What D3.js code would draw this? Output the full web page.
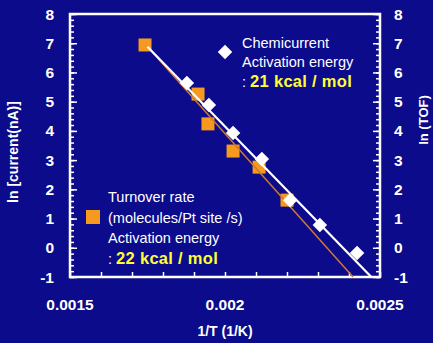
<!DOCTYPE html>
<html>
<head>
<meta charset="utf-8">
<script src="https://cdn.jsdelivr.net/npm/d3@7"></script>
<style>
  html, body { margin: 0; padding: 0; background: #0b0b8c; }
  svg { display: block; font-family: 'Liberation Sans', Arial, sans-serif; }
</style>
</head>
<body>
<svg></svg>
<script>
// chemicurrent (white diamonds)
const chemX = [0.001877, 0.001948, 0.002026, 0.002119, 0.00221, 0.002306, 0.002426]
const chemY = [5.64, 4.89, 3.93, 3.04, 1.63, 0.78, -0.18]
// turnover rate (orange squares)
const tofX = [0.001742, 0.001913, 0.001945, 0.002026, 0.00211, 0.0022]
const tofY = [6.94, 5.26, 4.24, 3.31, 2.76, 1.63]
// fitted lines, end points [x, y]
const chemFit = [[0.00175, 6.88], [0.002472, -1]]
const tofFit = [[0.00175, 6.88], [0.002413, -1]]

const xTicks = [0.0015, 0.002, 0.0025]
const yTicks = [-1, 0, 1, 2, 3, 4, 5, 6, 7, 8]

const drawChart = () => {
  const width = 433
  const height = 343
  const left = 70, right = 380, top = 14, bottom = 277
  const svg = d3.select('svg')
                .attr('width', width)
                .attr('height', height)

  const x = d3.scaleLinear().domain([0.0015, 0.0025]).range([left, right])
  const y = d3.scaleLinear().domain([-1, 8]).range([bottom, top])

  const minorY = d3.range(-1, 8.001, 0.2)
  const minorX = d3.range(0.0015, 0.00250001, 0.0001)

  // inward ticks
  svg.append('g')
     .attr('transform', `translate(${left},0)`)
     .call(d3.axisRight(y).tickValues(minorY).tickSize(4).tickFormat(''))
     .call(g => g.select('.domain').remove())
  svg.append('g')
     .attr('transform', `translate(${right},0)`)
     .call(d3.axisLeft(y).tickValues(minorY).tickSize(4).tickFormat(''))
     .call(g => g.select('.domain').remove())
  svg.append('g')
     .attr('transform', `translate(${left},0)`)
     .call(d3.axisRight(y).tickValues(yTicks).tickSize(7).tickFormat(''))
     .call(g => g.select('.domain').remove())
  svg.append('g')
     .attr('transform', `translate(${right},0)`)
     .call(d3.axisLeft(y).tickValues(yTicks).tickSize(7).tickFormat(''))
     .call(g => g.select('.domain').remove())
  svg.append('g')
     .attr('transform', `translate(0,${bottom})`)
     .call(d3.axisTop(x).tickValues(minorX).tickSize(5).tickFormat(''))
     .call(g => g.select('.domain').remove())
  svg.selectAll('.tick line').attr('stroke', '#ffffff').attr('stroke-width', 1.5)

  // frame
  svg.append('rect')
     .attr('x', left).attr('y', top)
     .attr('width', right - left).attr('height', bottom - top)
     .attr('fill', 'none')
     .attr('stroke', '#ffffff')
     .attr('stroke-width', 2.5)

  // tick labels
  svg.append('g')
     .selectAll('text')
     .data(yTicks)
     .join('text')
     .attr('x', 54)
     .attr('y', d => y(d))
     .attr('dy', '0.36em')
     .attr('text-anchor', 'end')
     .attr('fill', '#ffffff')
     .style('font-size', '15.5px')
     .style('font-weight', 'bold')
     .text(d => d)
  svg.append('g')
     .selectAll('text')
     .data(yTicks)
     .join('text')
     .attr('x', 394)
     .attr('y', d => y(d))
     .attr('dy', '0.36em')
     .attr('text-anchor', 'start')
     .attr('fill', '#ffffff')
     .style('font-size', '15.5px')
     .style('font-weight', 'bold')
     .text(d => d)
  svg.append('g')
     .selectAll('text')
     .data(xTicks)
     .join('text')
     .attr('x', d => x(d))
     .attr('y', 310)
     .attr('text-anchor', 'middle')
     .attr('fill', '#ffffff')
     .style('font-size', '15.5px')
     .style('font-weight', 'bold')
     .text(d => d)

  // axis titles
  svg.append('text')
     .text('1/T (1/K)')
     .attr('x', 225).attr('y', 336)
     .attr('text-anchor', 'middle')
     .attr('fill', '#ffffff')
     .style('font-size', '14px')
     .style('font-weight', 'bold')
  svg.append('text')
     .text('ln [current(nA)]')
     .attr('transform', 'translate(18,152)rotate(-90)')
     .attr('text-anchor', 'middle')
     .attr('fill', '#ffffff')
     .style('font-size', '14px')
     .style('font-weight', 'bold')
  svg.append('text')
     .text('ln (TOF)')
     .attr('transform', 'translate(428,120)rotate(-90)')
     .attr('text-anchor', 'middle')
     .attr('fill', '#ffffff')
     .style('font-size', '13px')
     .style('font-weight', 'bold')

  const tof = tofX.map((v, i) => [v, tofY[i]])
  const chem = chemX.map((v, i) => [v, chemY[i]])

  // orange squares
  const sq = 13
  svg.append('g')
     .selectAll('rect')
     .data(tof)
     .join('rect')
     .attr('x', d => x(d[0]) - sq / 2)
     .attr('y', d => y(d[1]) - sq / 2)
     .attr('width', sq).attr('height', sq)
     .attr('fill', '#f59a1e')

  // fit lines
  const line = d3.line().x(d => x(d[0])).y(d => y(d[1]))
  svg.append('path')
     .attr('d', line(tofFit))
     .attr('fill', 'none')
     .attr('stroke', '#d0782e')
     .attr('stroke-width', 1.5)
  svg.append('path')
     .attr('d', line(chemFit))
     .attr('fill', 'none')
     .attr('stroke', '#ffffff')
     .attr('stroke-width', 2.2)

  // white diamonds
  const diamond = d3.symbol().type(d3.symbolSquare).size(105)
  svg.append('g')
     .selectAll('path')
     .data(chem)
     .join('path')
     .attr('d', diamond)
     .attr('transform', d => `translate(${x(d[0])},${y(d[1])})rotate(45)`)
     .attr('fill', '#ffffff')

  // legend: chemicurrent
  svg.append('path')
     .attr('d', diamond)
     .attr('transform', 'translate(225,52)rotate(45)')
     .attr('fill', '#ffffff')
  const leg1 = svg.append('text')
                  .attr('fill', '#ffffff')
                  .style('font-size', '14.5px')
  leg1.append('tspan').attr('x', 242).attr('y', 48).text('Chemicurrent')
  leg1.append('tspan').attr('x', 242).attr('y', 67).text('Activation energy')
  leg1.append('tspan').attr('x', 242).attr('y', 87).text(': ')
  leg1.append('tspan')
      .attr('fill', '#ffff33')
      .style('font-weight', 'bold')
      .style('font-size', '16.5px')
      .style('letter-spacing', '0.3px')
      .text('21 kcal / mol')

  // legend: turnover rate
  svg.append('rect')
     .attr('x', 86).attr('y', 210)
     .attr('width', 14).attr('height', 14)
     .attr('fill', '#f59a1e')
  const leg2 = svg.append('text')
                  .attr('fill', '#ffffff')
                  .style('font-size', '14.5px')
  leg2.append('tspan').attr('x', 108).attr('y', 202).text('Turnover rate')
  leg2.append('tspan').attr('x', 108).attr('y', 223).text('(molecules/Pt site /s)')
  leg2.append('tspan').attr('x', 108).attr('y', 243).text('Activation energy')
  leg2.append('tspan').attr('x', 108).attr('y', 264).text(': ')
  leg2.append('tspan')
      .attr('fill', '#ffff33')
      .style('font-weight', 'bold')
      .style('font-size', '16.5px')
      .style('letter-spacing', '0.3px')
      .text('22 kcal / mol')
}

drawChart()
</script>
</body>
</html>
